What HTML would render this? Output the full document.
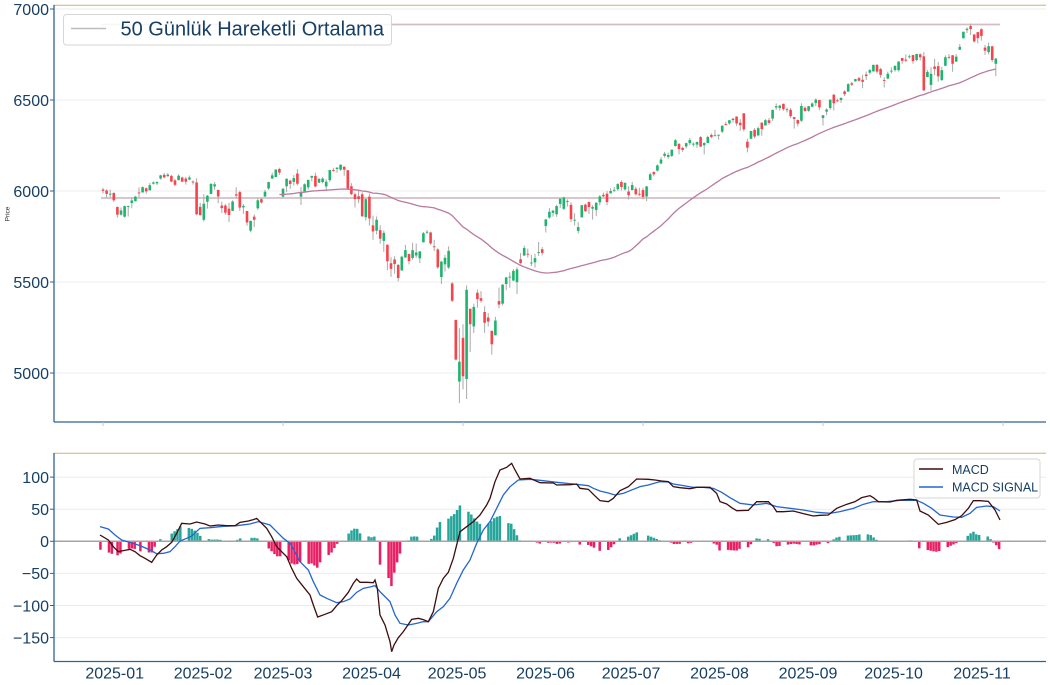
<!DOCTYPE html>
<html><head><meta charset="utf-8"><style>
html,body{margin:0;padding:0;background:#fff;}
svg{display:block;}
text{font-family:"Liberation Sans","DejaVu Sans",sans-serif;fill:#163f63;}
</style></head><body>
<svg id="chart" xmlns="http://www.w3.org/2000/svg" width="1050" height="685" viewBox="0 0 1050 685">
<rect x="0" y="0" width="1050" height="685" fill="#fff"/>
<!-- top panel grid -->
<g stroke="#ececec" stroke-width="1">
<line x1="54" x2="1046" y1="9" y2="9"/><line x1="54" x2="1046" y1="100" y2="100"/><line x1="54" x2="1046" y1="191" y2="191"/><line x1="54" x2="1046" y1="282" y2="282"/><line x1="54" x2="1046" y1="373" y2="373"/>
</g>
<!-- horizontal level lines -->
<line x1="101" x2="1000" y1="24.5" y2="24.5" stroke="#d2bec2" stroke-width="1.8"/>
<line x1="101" x2="1000" y1="198" y2="198" stroke="#d2bec2" stroke-width="1.8"/>
<g id="candles"></g>
<polyline id="ma" fill="none" stroke="#b97a9f" stroke-width="1.3" points=""/>
<!-- top panel spines -->
<line x1="54" x2="1046" y1="5.3" y2="5.3" stroke="#d8c7a3" stroke-width="1.3"/>
<line x1="54" x2="54" y1="5" y2="422" stroke="#2d6497" stroke-width="1.3"/>
<line x1="54" x2="1046" y1="422" y2="422" stroke="#2d6497" stroke-width="1.3"/>
<g stroke="#b8c4d0" stroke-width="1">
<line x1="103" x2="103" y1="422" y2="426"/><line x1="283" x2="283" y1="422" y2="426"/><line x1="463" x2="463" y1="422" y2="426"/><line x1="643" x2="643" y1="422" y2="426"/><line x1="823" x2="823" y1="422" y2="426"/><line x1="1003" x2="1003" y1="422" y2="426"/>
</g>
<g stroke="#2d6497" stroke-width="1">
<line x1="50" x2="54" y1="9" y2="9"/><line x1="50" x2="54" y1="100" y2="100"/><line x1="50" x2="54" y1="191" y2="191"/><line x1="50" x2="54" y1="282" y2="282"/><line x1="50" x2="54" y1="373" y2="373"/>
</g>
<g font-size="16" text-anchor="end">
<text x="49" y="14.8">7000</text><text x="49" y="105.8">6500</text><text x="49" y="196.8">6000</text><text x="49" y="287.8">5500</text><text x="49" y="378.8">5000</text>
</g>
<text x="0" y="0" font-size="6.5" text-anchor="middle" transform="translate(9.5,214) rotate(-90)" style="fill:#333">Price</text>
<!-- top legend -->
<rect x="63.5" y="14.5" width="328" height="30.5" rx="3" fill="#fff" fill-opacity="0.85" stroke="#d6d6d6" stroke-width="1"/>
<line x1="71" x2="106" y1="28.5" y2="28.5" stroke="#bdbdbd" stroke-width="1.5"/>
<text x="120.5" y="35.7" font-size="20">50 Günlük Hareketli Ortalama</text>

<!-- bottom panel grid -->
<g stroke="#ececec" stroke-width="1">
<line x1="54" x2="1046" y1="477.1" y2="477.1"/><line x1="54" x2="1046" y1="509.2" y2="509.2"/><line x1="54" x2="1046" y1="573.4" y2="573.4"/><line x1="54" x2="1046" y1="605.5" y2="605.5"/><line x1="54" x2="1046" y1="637.6" y2="637.6"/>
</g>
<g id="hist"></g>
<line x1="54" x2="1046" y1="541.3" y2="541.3" stroke="#a5a5a5" stroke-width="1.5"/>
<polyline id="sig" fill="none" stroke="#2366d1" stroke-width="1.3" points=""/>
<polyline id="macd" fill="none" stroke="#3d0d0f" stroke-width="1.3" points=""/>
<!-- bottom spines -->
<line x1="54" x2="1046" y1="453.3" y2="453.3" stroke="#d8c7a3" stroke-width="1.3"/>
<line x1="54" x2="54" y1="453" y2="661.5" stroke="#2d6497" stroke-width="1.3"/>
<line x1="54" x2="1046" y1="661.5" y2="661.5" stroke="#2d6497" stroke-width="1.3"/>
<g stroke="#2d6497" stroke-width="1">
<line x1="50" x2="54" y1="477.1" y2="477.1"/><line x1="50" x2="54" y1="509.2" y2="509.2"/><line x1="50" x2="54" y1="541.3" y2="541.3"/><line x1="50" x2="54" y1="573.4" y2="573.4"/><line x1="50" x2="54" y1="605.5" y2="605.5"/><line x1="50" x2="54" y1="637.6" y2="637.6"/>
</g>
<g font-size="16" text-anchor="end">
<text x="49" y="482.9">100</text><text x="49" y="515">50</text><text x="49" y="547.1">0</text><text x="49" y="579.2">−50</text><text x="49" y="611.3">−100</text><text x="49" y="643.4">−150</text>
</g>
<g font-size="16" text-anchor="middle">
<text x="114.7" y="678.5">2025-01</text><text x="203.1" y="678.5">2025-02</text><text x="283" y="678.5">2025-03</text><text x="371.5" y="678.5">2025-04</text><text x="457.1" y="678.5">2025-05</text><text x="545.5" y="678.5">2025-06</text><text x="631.1" y="678.5">2025-07</text><text x="719.5" y="678.5">2025-08</text><text x="808" y="678.5">2025-09</text><text x="893.6" y="678.5">2025-10</text><text x="982" y="678.5">2025-11</text>
</g>
<!-- MACD legend -->
<rect x="914" y="459" width="126" height="39" rx="3" fill="#fff" fill-opacity="0.85" stroke="#d6d6d6" stroke-width="1"/>
<line x1="919" x2="943" y1="469" y2="469" stroke="#3d0d0f" stroke-width="1.4"/>
<line x1="919" x2="943" y1="487" y2="487" stroke="#2366d1" stroke-width="1.4"/>
<text x="952" y="474" font-size="12.5">MACD</text>
<text x="952" y="491.5" font-size="12.5">MACD SIGNAL</text>
</svg>
<script>
(function(){
var D=[[6008,6001,6017,5986],[6003,5984,6010,5963],[5985,5985,6008,5965],[5989,5949,5993,5940],[5912,5870,5915,5853],[5870,5893,5909,5865],[5859,5917,5920,5853],[5917,5917,5920,5860],[5934,5948,5965,5905],[5944,5969,5973,5942],[5992,5987,6020,5963],[5992,6021,6025,5992],[6015,5998,6020,5985],[6004,6032,6044,6004],
[6040,6047,6053,6035],[6042,6049,6053,6033],[6069,6086,6089,6062],[6089,6075,6099,6070],[6081,6090,6099,6079],[6083,6052,6089,6049],[6058,6034,6066,6026],[6060,6084,6092,6058],[6074,6051,6079,6051],[6068,6051,6078,6035],[6063,6074,6085,6059],[6052,6050,6058,6035],[6047,5872,6070,5867],[5913,5867,5935,5866],[5842,5930,5982,5832],[5941,5974,5978,5903],[5984,6040,6040,5982],[6025,6037,6049,6007],[6006,5970,6006,5932],[5920,5906,5941,5880],[5920,5881,5929,5869],
[5903,5868,5935,5829],[5891,5942,5949,5889],[5982,5975,6021,5961],[5994,5909,6001,5891],[5910,5918,5928,5874],[5890,5827,5890,5809],[5782,5836,5837,5773],[5859,5842,5871,5802],[5905,5949,5960,5896],[5955,5937,5964,5931],[5969,5996,6006,5969],[6014,6049,6051,6006],[6069,6086,6100,6065],[6077,6118,6119,6075],[6121,6101,6128,6088],[5969,6012,6017,5962],[6026,6067,6070,5994],[6057,6039,6062,6012],[6050,6071,6087,6030],[6096,6040,6120,6031],
[5969,5994,6022,5923],[5998,6037,6042,5990],[6020,6061,6062,6007],[6073,6083,6084,6053],[6083,6025,6101,6020],[6046,6066,6073,6044],[6049,6068,6076,6042],[6025,6051,6064,6003],[6060,6115,6116,6050],[6115,6114,6127,6107],[6121,6129,6129,6100],[6117,6144,6147,6111],[6134,6117,6134,6084],[6114,6013,6115,6009],[6026,5983,6043,5977],[5982,5955,5992,5909],[5971,5956,6009,5933],[5982,5861,5993,5858],[5856,5955,5959,5837],
[5969,5849,5986,5810],[5811,5778,5865,5732],[5782,5842,5860,5762],[5785,5738,5812,5711],[5726,5770,5783,5666],[5705,5614,5705,5565],[5603,5572,5636,5528],[5624,5599,5642,5546],[5594,5522,5598,5504],[5563,5639,5645,5563],[5635,5675,5704,5632],[5654,5615,5655,5597],[5632,5675,5716,5622],[5646,5662,5711,5633],[5630,5668,5670,5604],[5718,5768,5775,5718],[5775,5776,5786,5763],[5772,5712,5777,5703],[5696,5693,5732,5670],[5679,5581,5685,5572],[5527,5612,5616,5489],
[5597,5633,5650,5558],[5580,5671,5696,5571],[5492,5397,5500,5390],[5292,5074,5292,5069],[4953,5062,5246,4835],[5193,4982,5268,4910],[4967,5457,5481,4857],[5353,5268,5353,5115],[5256,5363,5381,5220],[5441,5406,5459,5358],[5411,5397,5450,5387],[5335,5276,5367,5220],[5305,5283,5329,5255],[5232,5158,5232,5101],[5207,5288,5309,5207],[5395,5376,5469,5356],[5381,5485,5489,5371],[5489,5525,5528,5455],[5529,5529,5553,5468],[5508,5561,5571,5505],[5499,5569,5581,5434],
[5625,5604,5659,5597],[5645,5687,5700,5645],[5655,5650,5683,5634],[5607,5607,5649,5587],[5608,5631,5655,5579],[5663,5664,5720,5644],[5680,5660,5692,5646],[5808,5844,5845,5772],[5854,5886,5906,5848],[5880,5892,5896,5859],[5872,5917,5924,5858],[5929,5958,5958,5907],[5902,5964,5969,5896],[5945,5940,5954,5915],[5924,5845,5938,5830],[5842,5842,5878,5811],[5781,5802,5829,5767],[5855,5922,5924,5855],[5925,5889,5931,5885],[5939,5912,5943,5874],[5903,5912,5922,5843],
[5896,5936,5937,5862],[5938,5970,5978,5921],[5979,5971,5991,5966],[5985,5939,5999,5921],[5987,6000,6017,5987],[6004,6006,6022,5993],[6010,6038,6043,6001],[6049,6022,6059,6003],[6009,6045,6046,6003],[5997,5977,6026,5953],[6005,6033,6051,6005],[6012,5982,6024,5975],[5985,5981,6018,5971],[6005,5967,6018,5953],[5970,6025,6028,5944],[6061,6092,6101,6059],[6104,6092,6108,6081],[6112,6141,6146,6107],[6151,6173,6187,6146],[6193,6205,6215,6183],
[6187,6198,6211,6177],[6193,6227,6228,6186],[6247,6279,6285,6244],[6259,6230,6263,6201],[6237,6226,6243,6215],[6245,6263,6265,6233],[6263,6280,6291,6251],[6256,6260,6267,6244],[6255,6269,6272,6237],[6296,6244,6302,6242],[6251,6264,6267,6201],[6264,6297,6303,6264],[6308,6297,6316,6289],[6304,6306,6336,6303],[6306,6309,6310,6282],[6326,6359,6360,6318],[6368,6363,6381,6360],[6371,6389,6390,6364],[6397,6390,6401,6376],[6409,6371,6410,6358],[6375,6362,6395,6331],[6427,6339,6427,6327],
[6271,6238,6288,6212],[6287,6330,6330,6287],[6336,6299,6346,6289],[6305,6345,6353,6304],[6375,6340,6379,6304],[6360,6389,6395,6360],[6389,6374,6401,6364],[6398,6446,6446,6385],[6459,6466,6481,6446],[6456,6469,6474,6441],[6479,6450,6481,6441],[6446,6449,6459,6431],[6446,6411,6456,6401],[6406,6396,6407,6343],[6390,6370,6393,6355],[6386,6467,6482,6379],[6457,6439,6466,6438],[6441,6466,6468,6435],[6463,6481,6487,6460],[6483,6502,6509,6466],[6500,6460,6500,6444],
[6401,6416,6417,6360],[6436,6448,6454,6417],[6456,6502,6502,6446],[6529,6482,6533,6442],[6498,6495,6508,6488],[6500,6512,6513,6484],[6547,6532,6554,6522],[6546,6587,6592,6546],[6592,6584,6600,6577],[6603,6615,6616,6600],[6620,6606,6627,6601],[6611,6600,6639,6565],[6640,6631,6656,6610],[6650,6664,6672,6640],[6657,6693,6694,6656],[6693,6656,6697,6645],[6670,6638,6677,6622],[6610,6605,6625,6569],[6618,6644,6656,6614],[6661,6661,6679,6645],[6664,6688,6689,6656],
[6664,6711,6713,6656],[6731,6715,6731,6699],[6722,6716,6750,6708],[6740,6740,6749,6728],[6747,6714,6749,6700],[6720,6753,6754,6712],[6751,6735,6756,6717],[6740,6553,6764,6550],[6626,6654,6665,6626],[6583,6644,6680,6551],[6684,6671,6726,6636],[6686,6630,6709,6601],[6609,6664,6682,6606],[6688,6735,6745,6687],[6737,6735,6752,6723],[6746,6699,6746,6655],[6711,6738,6752,6709],[6776,6792,6808,6776],[6839,6875,6876,6839],[6884,6891,6900,6868],[6906,6890,6920,6857],[6860,6822,6862,6815],[6873,6840,6873,6811],
[6889,6852,6894,6826],[6788,6771,6803,6748],[6763,6796,6816,6750],[6795,6720,6798,6708],[6699,6728,6729,6631]];
var G="#1db46e",R="#f9434b";
function Y(p){return 9+(7000-p)*0.182;}
var s="",i;
for(i=0;i<D.length;i++){
 var x=103+i*3.6,o=D[i][0],c=D[i][1],h=D[i][2],l=D[i][3];
 s+='<line x1="'+x.toFixed(2)+'" x2="'+x.toFixed(2)+'" y1="'+Y(h).toFixed(2)+'" y2="'+Y(l).toFixed(2)+'" stroke="#a9a9a9" stroke-width="1"/>';
}
for(i=0;i<D.length;i++){
 var x=103+i*3.6,o=D[i][0],c=D[i][1];
 var t=Y(Math.max(o,c)),b=Y(Math.min(o,c)),hh=Math.max(b-t,0.9);
 s+='<rect x="'+(x-1.3).toFixed(2)+'" y="'+t.toFixed(2)+'" width="2.6" height="'+hh.toFixed(2)+'" fill="'+(c>=o?G:R)+'"/>';
}
document.getElementById("candles").innerHTML=s;
var pts=[];
for(i=49;i<D.length;i++){var sum=0;for(var k=i-49;k<=i;k++)sum+=D[k][1];pts.push((103+i*3.6).toFixed(2)+","+Y(sum/50).toFixed(2));}
document.getElementById("ma").setAttribute("points",pts.join(" "));

var M=[30,240,55,255,70,275,85,290,100,287,120,283,135,290,150,302,165,310,185,322,200,300,215,285,230,275,245,262,260,235,275,205,300,207,320,201,345,207,360,213,385,210,410,212,435,212,450,202,475,198,490,194,500,190,510,200,530,220,545,245,560,275,575,290,590,305,605,340,620,370,640,395,660,420,670,450,683,486,705,478,725,470,740,452,755,437,775,412,790,385,800,372,810,382,830,382,850,383,855,375,862,400,870,480,885,510,900,560,905,590,912,570,925,548,940,530,955,508,965,493,985,490,1000,494,1015,500,1030,470,1045,400,1060,370,1075,352,1090,310,1110,230,1130,215,1150,200,1170,180,1190,150,1200,130,1215,80,1230,45,1250,37,1265,25,1275,45,1290,72,1320,70,1350,83,
1390,84,1400,90,1440,89,1460,87,1470,100,1495,103,1510,118,1530,137,1555,140,1570,130,1590,107,1615,95,1640,72,1675,73,1695,75,1715,78,1735,80,1750,95,1770,98,1800,101,1820,97,1840,97,1860,97,1880,115,1890,140,1910,147,1925,158,1940,167,1975,166,2000,140,2035,140,2050,155,2060,170,2080,170,2110,168,2140,176,2170,183,2190,181,2215,180,2240,160,2270,148,2295,140,2315,128,2340,122,2350,128,2365,140,2400,141,2420,136,2460,133,2480,135,2490,168,2515,180,2545,208,2570,202,2595,194,2615,182,2635,160,2650,137,2670,137,2695,139,2715,165,2730,195];
var S=[30,215,55,222,75,240,95,255,120,262,150,272,180,285,200,296,220,295,240,290,255,275,270,258,290,250,305,243,330,220,360,218,400,214,440,212,480,207,505,200,540,210,560,230,580,250,600,265,615,290,630,320,655,345,670,380,690,420,710,430,740,443,760,440,780,432,800,412,820,400,840,396,855,392,870,410,900,440,915,480,930,505,955,510,980,505,1000,500,1015,500,1040,470,1060,455,1080,430,1100,385,1120,345,1140,315,1160,265,1180,225,1200,200,1220,160,1240,120,1260,95,1285,75,1320,73,1350,76,
1400,82,1450,87,1495,92,1510,100,1530,108,1555,114,1575,120,1600,115,1630,103,1650,95,1675,90,1710,80,1735,81,1750,87,1780,92,1810,97,1840,97,1870,100,1895,112,1920,128,1950,145,1990,150,2030,145,2060,155,2100,160,2140,165,2180,172,2220,175,2250,170,2290,160,2320,148,2350,140,2390,140,2430,136,2480,136,2500,145,2525,160,2550,180,2590,186,2615,187,2640,175,2660,157,2690,153,2710,155,2730,168];
function toPts(A){var p=[];for(var j=0;j<A.length;j+=2)p.push((90+A[j]/3).toFixed(2)+","+(455+A[j+1]/3).toFixed(2));return p.join(" ");}
document.getElementById("macd").setAttribute("points",toPts(M));
document.getElementById("sig").setAttribute("points",toPts(S));
function interp(A,zx){
 if(zx<=A[0])return A[1];
 for(var j=2;j<A.length;j+=2){if(zx<=A[j]){var f=(zx-A[j-2])/(A[j]-A[j-2]);return A[j-1]+f*(A[j+1]-A[j-1]);}}
 return A[A.length-1];
}
var hol={"2024-11-28":1,"2024-12-25":1,"2025-01-01":1,"2025-01-09":1,"2025-01-20":1,"2025-02-17":1,"2025-04-18":1,"2025-05-26":1,"2025-06-19":1,"2025-07-04":1,"2025-09-01":1};
var base=Date.UTC(2025,0,1),hs="";
for(var tt=Date.UTC(2024,11,27);tt<=Date.UTC(2025,10,7);tt+=864e5){
 var d=new Date(tt),w=d.getUTCDay();if(w==0||w==6)continue;
 var key=d.toISOString().slice(0,10);if(hol[key])continue;
 var off=Math.round((tt-base)/864e5);
 var x=114.7+off*2.853,zx=(x-90)*3;
 var diff=(interp(M,zx)-interp(S,zx))/3;
 if(zx>1030&&zx<1300)diff*=0.8;
 if(Math.abs(diff)<0.4)diff=diff<0?-0.4:0.4;
 var y0=541.3,y1=541.3+diff;
 hs+='<rect x="'+(x-1.25).toFixed(2)+'" y="'+Math.min(y0,y1).toFixed(2)+'" width="2.5" height="'+Math.abs(diff).toFixed(2)+'" fill="'+(diff<0?"#26a69a":"#e91e63")+'"/>';
}
document.getElementById("hist").innerHTML=hs;
})();
</script>
</body></html>
